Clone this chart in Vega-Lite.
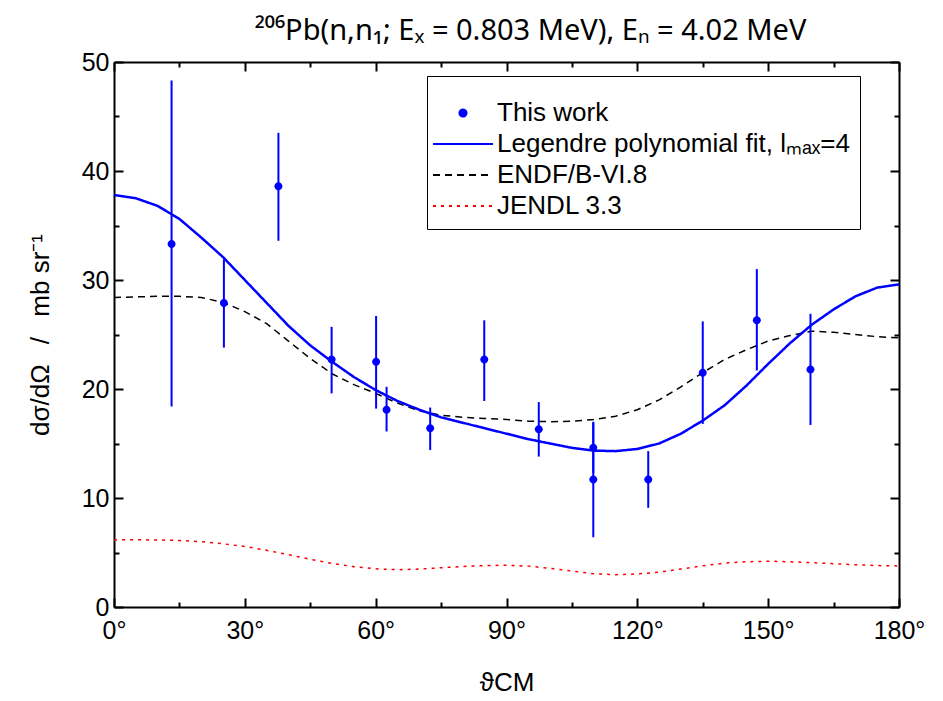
{
  "$schema": "https://vega.github.io/schema/vega-lite/v6.json",
  "width": 785,
  "height": 545,
  "autosize": {"type": "none"},
  "padding": {"left": 114, "top": 62, "right": 44, "bottom": 94},
  "background": "white",
  "title": {
    "text": "²⁰⁶Pb(n,n₁; Eₓ = 0.803 MeV), Eₙ = 4.02 MeV",
    "font": "Noto Sans",
    "fontSize": 29,
    "fontWeight": "normal",
    "color": "black",
    "anchor": "middle",
    "offset": 4,
    "dx": 24
  },
  "datasets": {
    "points": [
      {"theta": 13.2, "xs": 33.3, "lo": 18.4, "hi": 48.3, "series": "This work"},
      {"theta": 25.2, "xs": 27.9, "lo": 23.8, "hi": 31.9, "series": "This work"},
      {"theta": 37.7, "xs": 38.6, "lo": 33.6, "hi": 43.5, "series": "This work"},
      {"theta": 49.9, "xs": 22.7, "lo": 19.6, "hi": 25.7, "series": "This work"},
      {"theta": 60.1, "xs": 22.5, "lo": 18.2, "hi": 26.7, "series": "This work"},
      {"theta": 62.5, "xs": 18.1, "lo": 16.1, "hi": 20.2, "series": "This work"},
      {"theta": 72.5, "xs": 16.4, "lo": 14.4, "hi": 18.3, "series": "This work"},
      {"theta": 84.9, "xs": 22.7, "lo": 18.9, "hi": 26.3, "series": "This work"},
      {"theta": 97.4, "xs": 16.3, "lo": 13.8, "hi": 18.8, "series": "This work"},
      {"theta": 109.9, "xs": 14.6, "lo": 12.3, "hi": 16.9, "series": "This work"},
      {"theta": 109.9, "xs": 11.7, "lo": 6.4, "hi": 17.0, "series": "This work"},
      {"theta": 122.5, "xs": 11.7, "lo": 9.1, "hi": 14.3, "series": "This work"},
      {"theta": 135.0, "xs": 21.5, "lo": 16.8, "hi": 26.2, "series": "This work"},
      {"theta": 147.4, "xs": 26.3, "lo": 21.7, "hi": 31.0, "series": "This work"},
      {"theta": 159.7, "xs": 21.8, "lo": 16.7, "hi": 26.9, "series": "This work"}
    ],
    "fit": [
      {"theta": 0, "xs": 37.8}, {"theta": 5, "xs": 37.5}, {"theta": 10, "xs": 36.8},
      {"theta": 15, "xs": 35.6}, {"theta": 20, "xs": 33.9}, {"theta": 25, "xs": 32.1},
      {"theta": 30, "xs": 30.0}, {"theta": 35, "xs": 27.9}, {"theta": 40, "xs": 25.8},
      {"theta": 45, "xs": 24.0}, {"theta": 50, "xs": 22.5}, {"theta": 55, "xs": 21.1},
      {"theta": 60, "xs": 19.9}, {"theta": 65, "xs": 18.9}, {"theta": 70, "xs": 18.1},
      {"theta": 75, "xs": 17.4}, {"theta": 80, "xs": 16.9}, {"theta": 85, "xs": 16.4},
      {"theta": 90, "xs": 15.9}, {"theta": 95, "xs": 15.4}, {"theta": 100, "xs": 15.0},
      {"theta": 105, "xs": 14.6}, {"theta": 110, "xs": 14.35}, {"theta": 115, "xs": 14.3},
      {"theta": 120, "xs": 14.5}, {"theta": 125, "xs": 15.0}, {"theta": 130, "xs": 15.9},
      {"theta": 135, "xs": 17.1}, {"theta": 140, "xs": 18.5}, {"theta": 145, "xs": 20.3},
      {"theta": 150, "xs": 22.3}, {"theta": 155, "xs": 24.2}, {"theta": 160, "xs": 25.9},
      {"theta": 165, "xs": 27.3}, {"theta": 170, "xs": 28.5}, {"theta": 175, "xs": 29.3},
      {"theta": 180, "xs": 29.6}
    ],
    "endf": [
      {"theta": 0, "xs": 28.4}, {"theta": 5, "xs": 28.45}, {"theta": 10, "xs": 28.5},
      {"theta": 15, "xs": 28.5}, {"theta": 20, "xs": 28.4}, {"theta": 25, "xs": 27.95},
      {"theta": 30, "xs": 27.1}, {"theta": 35, "xs": 26.0}, {"theta": 40, "xs": 24.4},
      {"theta": 45, "xs": 22.8}, {"theta": 50, "xs": 21.4}, {"theta": 55, "xs": 20.4},
      {"theta": 60, "xs": 19.6}, {"theta": 65, "xs": 18.7}, {"theta": 70, "xs": 18.0},
      {"theta": 75, "xs": 17.6}, {"theta": 80, "xs": 17.4}, {"theta": 85, "xs": 17.3},
      {"theta": 90, "xs": 17.2}, {"theta": 95, "xs": 17.05}, {"theta": 100, "xs": 17.0},
      {"theta": 105, "xs": 17.05}, {"theta": 110, "xs": 17.2}, {"theta": 115, "xs": 17.5},
      {"theta": 120, "xs": 18.1}, {"theta": 125, "xs": 19.0}, {"theta": 130, "xs": 20.2},
      {"theta": 135, "xs": 21.5}, {"theta": 140, "xs": 22.7}, {"theta": 145, "xs": 23.6},
      {"theta": 150, "xs": 24.4}, {"theta": 155, "xs": 24.9}, {"theta": 160, "xs": 25.3},
      {"theta": 165, "xs": 25.2}, {"theta": 170, "xs": 25.0}, {"theta": 175, "xs": 24.8},
      {"theta": 180, "xs": 24.7}
    ],
    "jendl": [
      {"theta": 0, "xs": 6.17}, {"theta": 5, "xs": 6.17}, {"theta": 10, "xs": 6.15},
      {"theta": 15, "xs": 6.1}, {"theta": 20, "xs": 6.0}, {"theta": 25, "xs": 5.8},
      {"theta": 30, "xs": 5.55}, {"theta": 35, "xs": 5.2}, {"theta": 40, "xs": 4.8},
      {"theta": 45, "xs": 4.38}, {"theta": 50, "xs": 4.0}, {"theta": 55, "xs": 3.7},
      {"theta": 60, "xs": 3.5}, {"theta": 65, "xs": 3.42}, {"theta": 70, "xs": 3.48},
      {"theta": 75, "xs": 3.6}, {"theta": 80, "xs": 3.72}, {"theta": 85, "xs": 3.8},
      {"theta": 90, "xs": 3.83}, {"theta": 95, "xs": 3.75}, {"theta": 100, "xs": 3.55},
      {"theta": 105, "xs": 3.3}, {"theta": 110, "xs": 3.05}, {"theta": 115, "xs": 2.97},
      {"theta": 120, "xs": 3.03}, {"theta": 125, "xs": 3.2}, {"theta": 130, "xs": 3.48},
      {"theta": 135, "xs": 3.78}, {"theta": 140, "xs": 4.02}, {"theta": 145, "xs": 4.15},
      {"theta": 150, "xs": 4.2}, {"theta": 155, "xs": 4.15}, {"theta": 160, "xs": 4.07},
      {"theta": 165, "xs": 3.97}, {"theta": 170, "xs": 3.88}, {"theta": 175, "xs": 3.8},
      {"theta": 180, "xs": 3.77}
    ]
  },
  "resolve": {"axis": {"x": "independent", "y": "independent"}},
  "layer": [
    {
      "data": {"name": "jendl"},
      "transform": [{"calculate": "'JENDL 3.3'", "as": "series"}],
      "mark": {"type": "line", "strokeWidth": 1.5},
      "encoding": {
        "x": {
          "field": "theta", "type": "quantitative",
          "scale": {"domain": [0, 180], "nice": false},
          "axis": {
            "orient": "bottom",
            "title": "ϑCM",
            "values": [0, 15, 30, 45, 60, 75, 90, 105, 120, 135, 150, 165, 180],
            "labelExpr": "datum.value % 30 === 0 ? datum.value + '°' : ''",
            "labelFlush": false,
            "tickSize": {"condition": {"test": "datum.value % 30 === 0", "value": -9}, "value": -5},
            "labelPadding": 20,
            "titlePadding": 26
          }
        },
        "y": {
          "field": "xs", "type": "quantitative",
          "scale": {"domain": [0, 50], "nice": false},
          "axis": {
            "orient": "left",
            "title": "dσ/dΩ\u2002\u00a0/\u2002\u00a0mb sr⁻¹",
            "values": [0, 5, 10, 15, 20, 25, 30, 35, 40, 45, 50],
            "labelExpr": "datum.value % 10 === 0 ? datum.label : ''",
            "labelFlush": false,
            "tickSize": {"condition": {"test": "datum.value % 10 === 0", "value": -9}, "value": -5},
            "labelPadding": 14,
            "titlePadding": 28
          }
        },
        "color": {
          "field": "series", "type": "nominal",
          "title": "\u2002",
          "scale": {
            "domain": ["This work", "Legendre polynomial fit, lₘₐₓ=4", "ENDF/B-VI.8", "JENDL 3.3"],
            "range": ["#0000ff", "#0000ff", "#000000", "#ff0000"]
          }
        },
        "strokeDash": {
          "field": "series", "type": "nominal",
          "title": "\u2002",
          "scale": {
            "domain": ["This work", "Legendre polynomial fit, lₘₐₓ=4", "ENDF/B-VI.8", "JENDL 3.3"],
            "range": [[1, 0], [1, 0], [7, 5], [3, 5]]
          }
        }
      }
    },
    {
      "data": {"name": "endf"},
      "transform": [{"calculate": "'ENDF/B-VI.8'", "as": "series"}],
      "mark": {"type": "line", "strokeWidth": 1.5},
      "encoding": {
        "x": {
          "field": "theta", "type": "quantitative",
          "axis": {
            "orient": "top", "title": null, "labels": false,
            "values": [0, 15, 30, 45, 60, 75, 90, 105, 120, 135, 150, 165, 180],
            "tickSize": {"condition": {"test": "datum.value % 30 === 0", "value": -9}, "value": -5}
          }
        },
        "y": {
          "field": "xs", "type": "quantitative",
          "axis": {
            "orient": "right", "title": null, "labels": false,
            "values": [0, 5, 10, 15, 20, 25, 30, 35, 40, 45, 50],
            "tickSize": {"condition": {"test": "datum.value % 10 === 0", "value": -9}, "value": -5}
          }
        },
        "color": {"field": "series", "type": "nominal"},
        "strokeDash": {"field": "series", "type": "nominal"}
      }
    },
    {
      "data": {"name": "fit"},
      "transform": [{"calculate": "'Legendre polynomial fit, lₘₐₓ=4'", "as": "series"}],
      "mark": {"type": "line", "strokeWidth": 2.5},
      "encoding": {
        "x": {"field": "theta", "type": "quantitative", "axis": null},
        "y": {"field": "xs", "type": "quantitative", "axis": null},
        "color": {"field": "series", "type": "nominal"},
        "strokeDash": {"field": "series", "type": "nominal"}
      }
    },
    {
      "data": {"name": "points"},
      "mark": {"type": "rule", "color": "#0000ff", "strokeWidth": 2},
      "encoding": {
        "x": {"field": "theta", "type": "quantitative", "axis": null},
        "y": {"field": "lo", "type": "quantitative", "axis": null},
        "y2": {"field": "hi"}
      }
    },
    {
      "data": {"name": "points"},
      "mark": {"type": "point", "filled": true, "opacity": 1, "size": 130},
      "encoding": {
        "x": {"field": "theta", "type": "quantitative", "axis": null},
        "y": {"field": "xs", "type": "quantitative", "axis": null},
        "color": {"field": "series", "type": "nominal"},
        "shape": {
          "field": "series", "type": "nominal",
          "title": "\u2002",
          "scale": {
            "domain": ["This work", "Legendre polynomial fit, lₘₐₓ=4", "ENDF/B-VI.8", "JENDL 3.3"],
            "range": [
              "M0.7,0A0.7,0.7 0 1,1 -0.7,0A0.7,0.7 0 1,1 0.7,0Z",
              "M-6,0H6",
              "M-6,0H6",
              "M-6,0H6"
            ]
          }
        }
      }
    }
  ],
  "config": {
    "view": {"stroke": null},
    "font": "Liberation Sans",
    "axis": {
      "grid": false,
      "domainColor": "black",
      "domainWidth": 2,
      "tickColor": "black",
      "tickWidth": 2,
      "labelFont": "Liberation Sans",
      "labelFontSize": 25,
      "labelColor": "black",
      "titleFont": "Liberation Sans",
      "titleFontSize": 26,
      "titleFontWeight": "normal",
      "titleColor": "black"
    },
    "legend": {
      "orient": "none",
      "legendX": 313,
      "legendY": 14,
      "strokeColor": "black",
      "padding": 10,
      "titleFont": "Liberation Sans",
      "titleFontSize": 10,
      "titlePadding": 4,
      "labelFont": "Liberation Sans",
      "labelFontSize": 26,
      "labelColor": "black",
      "symbolSize": 100,
      "symbolStrokeWidth": 2,
      "symbolOffset": 13,
      "labelOffset": 21,
      "rowPadding": 5,
      "labelLimit": 500
    }
  }
}
